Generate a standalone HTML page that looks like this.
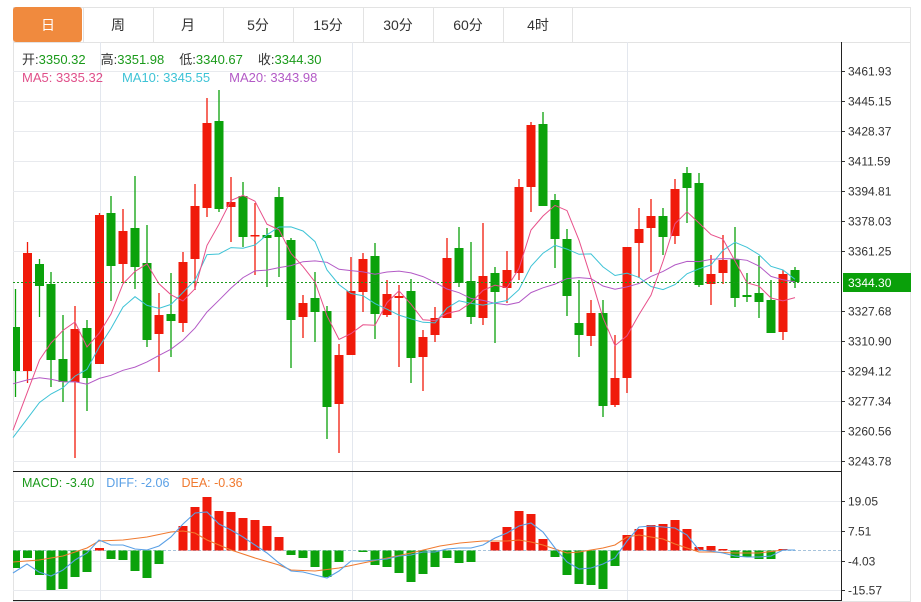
<!DOCTYPE html>
<html><head><meta charset="utf-8"><style>
html,body{margin:0;padding:0;background:#fff;width:921px;height:602px;overflow:hidden;font-family:"Liberation Sans","Noto Sans CJK SC",sans-serif}
svg{position:absolute;left:0;top:0}
</style></head><body>
<svg id="s" width="921" height="602" xmlns="http://www.w3.org/2000/svg" font-family="Liberation Sans, Noto Sans CJK SC, sans-serif"></svg>
<script>
var C=[
[15.5,327,371,289,397,0],[27.5,253,371,242,383,1],[39.5,264,286,259,317,0],[51,284,360,272,387,0],[63,359,382,315,402,0],
[75,329,382,306,458,1],[87,328,378,320,411,0],[99.5,215,364,213,364,1],[111,213,266,196,301,0],[123,231,264,209,283,1],
[135,228,267,176,289,0],[147,263,340,225,347,0],[159,315,334,293,372,1],[171,314,321,273,357,0],[183,262,323,252,332,1],
[195,206,259,184,290,1],[207,123,208,98,217,1],[219,121,209,90,212,0],[231,202,207,177,242,1],[243,196,237,182,247,0],
[255,235,236,203,275,1],[267,235,238,228,287,0],[279,197,237,187,277,0],[291,240,320,238,368,0],[303,303,317,295,338,1],
[315,298,312,272,342,0],[327,311,407,306,439,0],[339,355,404,344,453,1],[351,291,355,257,355,1],[363,259,292,253,312,1],
[375,256,314,243,339,0],[387,294,315,280,317,1],[399,296,298,285,367,1],[411,291,358,279,383,0],[423,337,357,330,391,1],
[435,318,335,307,342,1],[447,258,318,238,318,1],[459,248,283,227,287,0],[471,281,317,242,324,0],[483,276,318,223,325,1],
[495,273,292,267,343,0],[507,270,288,251,303,1],[519,187,273,179,280,1],[531,125,187,122,212,1],[543,124,206,112,206,0],
[555,200,239,194,268,0],[567,239,296,229,316,0],[579,323,335,280,357,0],[591,313,336,300,346,1],[603,313,406,300,417,0],
[615,378,405,335,407,1],[627,247,378,247,393,1],[639,229,243,208,278,1],[651,216,228,199,272,1],[663,216,237,208,255,0],
[675,189,236,179,244,1],[687,173,188,167,223,0],[699,183,285,173,287,0],[711,274,284,255,305,1],[723,260,273,235,284,1],
[735,259,298,227,307,0],[747,295,297,273,302,0],[759,293,302,256,318,0],[771,300,333,280,333,0],[783,274,332,270,340,1],[795,270,282,267,288,0]];
var M=[568,558,575,590,589,577,572,548,559,560,571,578,564,550,526,507,497,511,512,518,520,526,537,555,558,567,577,562,550,552,565,567,573,582,574,567,558,563,562,550,542,527,511,514,539,557,575,584,585,589,566,535,529,525,524,520,529,547,546,549,558,557,559,559,549,550];
var DIFF=[[13,573],[27,564],[39,572],[51,576],[63,570],[75,560],[87,553],[99,540],[111,545],[123,545],[135,549],[147,550],[159,546],[171,537],[183,524],[195,513],[207,512],[219,524],[231,530],[243,537],[255,545],[267,553],[279,563],[291,571],[303,572],[315,575],[327,578],[339,571],[351,561],[363,561],[375,560],[387,559],[399,556],[411,555],[423,552],[435,552],[447,549],[459,548],[471,548],[483,545],[495,538],[507,533],[519,526],[531,523],[543,532],[555,548],[567,562],[579,569],[591,568],[603,564],[615,558],[627,541],[639,527],[651,526],[663,527],[675,528],[687,535],[699,550],[711,551],[723,553],[735,556],[747,557],[759,557],[771,556],[783,550],[795,550]];
var DEA=[[13,562],[39,560],[63,556],[87,548],[99,541],[123,540],[147,537],[171,532],[183,531],[195,533],[207,540],[231,550],[255,558],[279,565],[291,570],[315,571],[339,568],[363,563],[387,558],[411,553],[440,546],[460,543],[483,541],[507,541],[519,540],[531,542],[543,545],[555,549],[567,553],[579,552],[603,548],[615,545],[627,537],[639,535],[651,537],[663,539],[675,544],[699,552],[711,552],[735,553],[759,553],[783,550],[795,550]];
var h='';
h+='<rect x="13.5" y="7.5" width="897" height="594" fill="none" stroke="#e3e3e3"/>';
var tabs=['日','周','月','5分','15分','30分','60分','4时'];
for(var i=0;i<8;i++){var x=13+i*70;
 if(i==0)h+='<rect x="13" y="7" width="69" height="35" rx="3" fill="#f08a3e"/>';
 else h+='<line x1="'+(x+0.5)+'" y1="7" x2="'+(x+0.5)+'" y2="42" stroke="#e3e3e3"/>';
 h+='<text x="'+(x+35)+'" y="30" text-anchor="middle" font-size="14" fill="'+(i==0?'#fff':'#333')+'">'+tabs[i]+'</text>';}
h+='<line x1="572.5" y1="7" x2="572.5" y2="42" stroke="#e3e3e3"/>';
h+='<line x1="13" y1="42.5" x2="911" y2="42.5" stroke="#e3e3e3"/>';
var py=[71,101,131,161,191,221,251,311,341,371,401,431,461];
var pl=['3461.93','3445.15','3428.37','3411.59','3394.81','3378.03','3361.25','3327.68','3310.90','3294.12','3277.34','3260.56','3243.78'];
for(var i=0;i<py.length;i++){h+='<line x1="13" y1="'+(py[i]+.5)+'" x2="841" y2="'+(py[i]+.5)+'" stroke="#e8eaee"/>';
 h+='<line x1="841" y1="'+(py[i]+.5)+'" x2="845" y2="'+(py[i]+.5)+'" stroke="#333"/><text x="848" y="'+(py[i]+4.5)+'" font-size="12" fill="#333">'+pl[i]+'</text>';}
var my=[501,531,561,590],ml=['19.05','7.51','-4.03','-15.57'];
for(var i=0;i<4;i++){h+='<line x1="13" y1="'+(my[i]+.5)+'" x2="841" y2="'+(my[i]+.5)+'" stroke="#e8eaee"/>';
 h+='<line x1="841" y1="'+(my[i]+.5)+'" x2="845" y2="'+(my[i]+.5)+'" stroke="#333"/><text x="848" y="'+(my[i]+4.5)+'" font-size="12" fill="#333">'+ml[i]+'</text>';}
[100,352,627].forEach(function(x){h+='<line x1="'+(x+.5)+'" y1="42" x2="'+(x+.5)+'" y2="600" stroke="#e3e7ee"/>';});
h+='<line x1="841.5" y1="42" x2="841.5" y2="601" stroke="#222"/>';
h+='<line x1="13" y1="471.5" x2="841" y2="471.5" stroke="#222"/>';
h+='<line x1="13" y1="600.5" x2="841" y2="600.5" stroke="#222"/>';
h+='<line x1="13" y1="550.5" x2="841" y2="550.5" stroke="#a8c4dc" stroke-dasharray="3,2"/>';
C.forEach(function(c){var col=c[5]?'#f01a0a':'#0ba20b';
 h+='<line x1="'+c[0]+'" y1="'+c[3]+'" x2="'+c[0]+'" y2="'+c[4]+'" stroke="'+col+'" stroke-width="1.3"/>';
 var x0=Math.max(13,c[0]-4.5);h+='<rect x="'+x0+'" y="'+c[1]+'" width="'+(c[0]+4.5-x0)+'" height="'+Math.max(1.5,c[2]-c[1])+'" fill="'+col+'"/>';});
var cl=[];for(var i=0;i<10;i++)cl.push([0,330]);for(var i=0;i<9;i++)cl.push([0,445]);
C.forEach(function(c){cl.push([c[0],c[5]?c[1]:c[2]]);});
function ma(n,col){var p=[];for(var i=19;i<cl.length;i++){var s=0;for(var k=0;k<n;k++)s+=cl[i-k][1];var x=cl[i][0];if(i==19)x=13;p.push(x+','+(s/n).toFixed(1));}
 h+='<polyline points="'+p.join(' ')+'" fill="none" stroke="'+col+'" stroke-width="1"/>';}
ma(20,'#b35ac6');ma(10,'#3ec3d6');ma(5,'#e8508a');
h+='<line x1="13" y1="282.5" x2="841" y2="282.5" stroke="#1a9a1a" stroke-dasharray="2,2"/>';
h+='<rect x="843" y="273" width="68" height="19" fill="#0aa00a"/><text x="848" y="287" font-size="12" fill="#fff">3344.30</text>';
M.forEach(function(v,i){var x=C[i][0];var x0=Math.max(13,x-4.5);var w=x+4.5-x0;
 if(v<550)h+='<rect x="'+x0+'" y="'+v+'" width="'+w+'" height="'+(550.5-v)+'" fill="#f01a0a"/>';
 else if(v>551)h+='<rect x="'+x0+'" y="550.5" width="'+w+'" height="'+(v-550.5)+'" fill="#0ba20b"/>';});
h+='<polyline points="'+DEA.join(' ')+'" fill="none" stroke="#f07a30" stroke-width="1.1"/>';
h+='<polyline points="'+DIFF.join(' ')+'" fill="none" stroke="#5aa0e6" stroke-width="1.1"/>';
h+='<text x="22" y="64" font-size="13"><tspan fill="#333">开:</tspan><tspan fill="#1a9a1a">3350.32</tspan><tspan fill="#333" dx="15">高:</tspan><tspan fill="#1a9a1a">3351.98</tspan><tspan fill="#333" dx="15">低:</tspan><tspan fill="#1a9a1a">3340.67</tspan><tspan fill="#333" dx="15">收:</tspan><tspan fill="#1a9a1a">3344.30</tspan></text>';
h+='<text x="22" y="82" font-size="13"><tspan fill="#e0508a">MA5: 3335.32</tspan><tspan fill="#3ec3d6" dx="19">MA10: 3345.55</tspan><tspan fill="#b35ac6" dx="19">MA20: 3343.98</tspan></text>';
h+='<text x="22" y="487" font-size="12.5"><tspan fill="#1a9a1a">MACD: -3.40</tspan><tspan fill="#5aa0e6" dx="12">DIFF: -2.06</tspan><tspan fill="#f07a30" dx="12">DEA: -0.36</tspan></text>';
document.getElementById('s').innerHTML=h;
</script>
</body></html>
